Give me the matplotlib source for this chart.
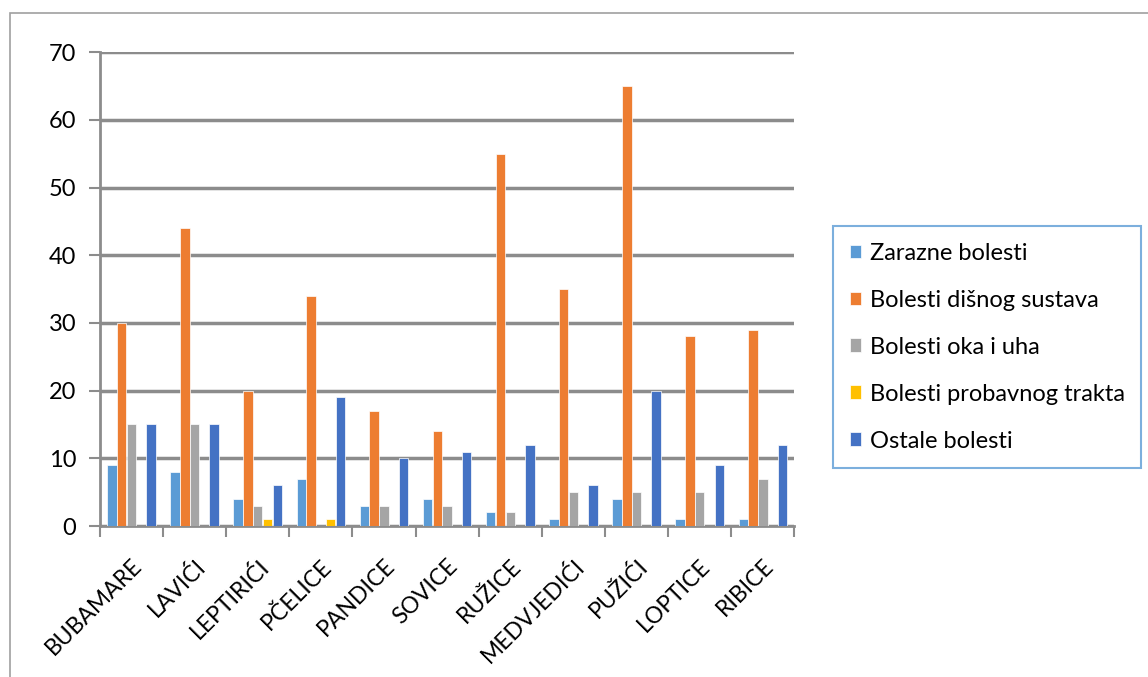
import numpy as np
import matplotlib.pyplot as plt
from matplotlib.patches import Rectangle

plt.rcParams["font.family"] = ["Lato", "DejaVu Sans"]

groups = ["BUBAMARE", "LAVIĆI", "LEPTIRIĆI", "PČELICE", "PANDICE", "SOVICE",
          "RUŽICE", "MEDVJEDIĆI", "PUŽIĆI", "LOPTICE", "RIBICE"]
series = ["Zarazne bolesti", "Bolesti dišnog sustava", "Bolesti oka i uha",
          "Bolesti probavnog trakta", "Ostale bolesti"]
zarazne = [9, 8, 4, 7, 3, 4, 2, 1, 4, 1, 1]
disni = [30, 44, 20, 34, 17, 14, 55, 35, 65, 28, 29]
oka_uha = [15, 15, 3, 0, 3, 3, 2, 5, 5, 5, 7]
probavni = [0, 0, 1, 1, 0, 0, 0, 0, 0, 0, 0]
ostale = [15, 15, 6, 19, 10, 11, 12, 6, 20, 9, 12]
values = [zarazne, disni, oka_uha, probavni, ostale]
colors = ["#5b9bd5", "#ed7d31", "#a5a5a5", "#ffc000", "#4472c4"]

fig = plt.figure(figsize=(11.48, 6.77), dpi=100)
ax = fig.add_axes([0.087, 0.223, 0.605, 0.70])

x = np.arange(len(groups))
w = 0.155
for i, (name, vals, c) in enumerate(zip(series, values, colors)):
    ax.bar(x + (i - 2) * w, vals, width=w * 0.97, color=c, label=name,
           edgecolor="white", linewidth=0.5, zorder=3)

ax.set_xlim(-0.5, len(groups) - 0.5)
ax.set_ylim(0, 70)
ax.set_yticks(range(0, 71, 10))
ax.yaxis.grid(True, color="#8c8c8c", linewidth=2.5, zorder=0)
ax.set_axisbelow(True)

ax.set_xticks(x)
ax.set_xticklabels(groups, rotation=45, ha="right", rotation_mode="anchor", fontsize=16.5)
ax.set_xticks(np.arange(-0.5, len(groups)), minor=True)
ax.tick_params(axis="x", which="major", length=0, pad=21)
ax.tick_params(axis="x", which="minor", length=8, color="#8c8c8c", width=1.5)
ax.tick_params(axis="y", labelsize=17, length=8, color="#8c8c8c", width=1.5, pad=9)

for s in ["top", "right"]:
    ax.spines[s].set_visible(False)
for s in ["left", "bottom"]:
    ax.spines[s].set_color("#8c8c8c")
    ax.spines[s].set_linewidth(2)

leg = fig.legend(loc="upper left", bbox_to_anchor=(0.7256, 0.666), fontsize=17,
                 frameon=True, fancybox=False, handlelength=0.5, handleheight=0.5,
                 handletextpad=0.35, labelspacing=1.1, borderpad=0.7, borderaxespad=0)
leg.get_frame().set_edgecolor("#5b9bd5")
leg.get_frame().set_linewidth(1.5)

# outer frame of the chart area
fig.patches.append(Rectangle((0.0085, -0.01), 1.0, 0.9908, transform=fig.transFigure,
                             fill=False, edgecolor="#a0a0a0", linewidth=1.2))

fig.savefig("out.png", dpi=100)
